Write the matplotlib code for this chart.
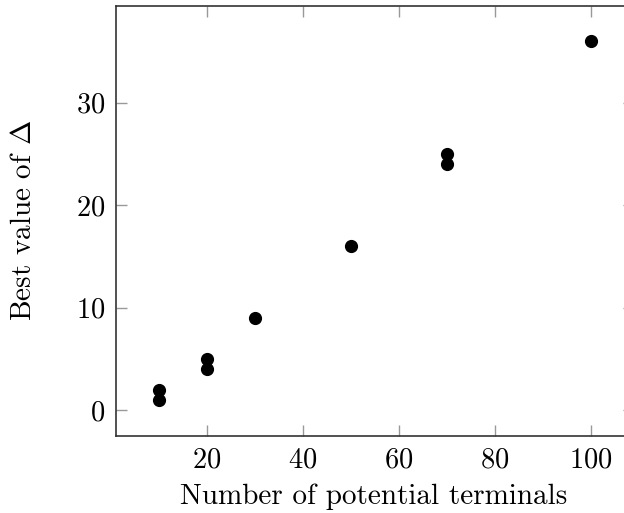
import matplotlib
matplotlib.use("Agg")
import matplotlib.pyplot as plt

# values
terminals = [10, 10, 20, 20, 30, 50, 70, 70, 100]
best_delta = [1, 2, 4, 5, 9, 16, 24, 25, 36]
xticks = [20, 40, 60, 80, 100]
yticks = [0, 10, 20, 30]

plt.rcParams["font.family"] = "cmr10"
plt.rcParams["mathtext.fontset"] = "cm"
plt.rcParams["axes.formatter.use_mathtext"] = True

fig = plt.figure(figsize=(6.24, 5.13), dpi=100)
# axes runs a little past the right edge, like the cropped original
ax = fig.add_axes([116 / 624, 77.4 / 513, 518 / 624, 430.1 / 513])

ax.scatter(terminals, best_delta, s=72, color="black", zorder=3)

ax.set_xlim(1, 109)
ax.set_ylim(-2.5, 39.5)
ax.set_xticks(xticks)
ax.set_yticks(yticks)
ax.tick_params(direction="in", length=8, width=1, color="#999999",
               top=True, right=True, labelsize=20.5, pad=8)
for s in ax.spines.values():
    s.set_color("#333333")
    s.set_linewidth(1.2)

ax.set_xlabel("Number of potential terminals", fontsize=21)
ax.set_ylabel(r"Best value of $\Delta$", fontsize=21)
ax.xaxis.set_label_coords(0.497, -0.112)
ax.yaxis.set_label_coords(-0.153, 0.5)

fig.savefig("out.png", dpi=100)
